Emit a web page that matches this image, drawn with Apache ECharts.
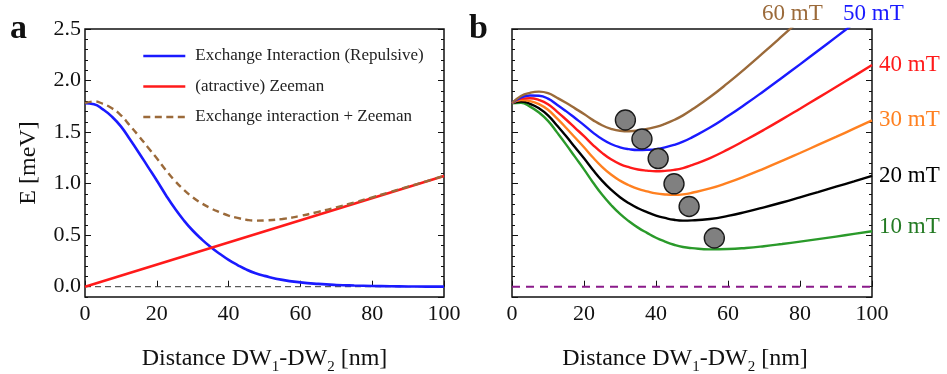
<!DOCTYPE html>
<html>
<head>
<meta charset="utf-8">
<script src="https://cdn.jsdelivr.net/npm/echarts@6/dist/echarts.min.js"></script>
<style>
  html, body { margin: 0; padding: 0; background: #fff; }
  #chart { width: 947px; height: 374px; }
</style>
</head>
<body>
<div id="chart"></div>
<script>
// Distance between the two domain walls, nm
const distance = [0, 2.5, 5, 7.5, 10, 12.5, 15, 17.5, 20, 22.5, 25, 27.5, 30, 32.5, 35, 37.5,
  40, 42.5, 45, 47.5, 50, 55, 60, 65, 70, 75, 80, 85, 90, 95, 100];

// Panel a: energy terms, meV
const exchange = [1.78, 1.77, 1.72, 1.65, 1.555, 1.43, 1.30, 1.165, 1.03, 0.89, 0.76, 0.645, 0.545, 0.46,
  0.385, 0.32, 0.26, 0.21, 0.165, 0.13, 0.105, 0.066, 0.042, 0.027, 0.017, 0.011, 0.007, 0.004, 0.002, 0.001, 0.0005];
const zeemanDistance = [0, 100];
const zeeman = [0, 1.075];
const exchangePlusZeeman = [1.78, 1.797, 1.774, 1.731, 1.663, 1.564, 1.461, 1.353, 1.245, 1.132, 1.029, 0.941,
  0.868, 0.809, 0.761, 0.723, 0.690, 0.667, 0.649, 0.641, 0.643, 0.657, 0.687, 0.726, 0.770, 0.817, 0.867,
  0.918, 0.970, 1.022, 1.076];

// Panel b: total energy for each applied field, meV
const field10 = [1.78, 1.783, 1.747, 1.690, 1.609, 1.497, 1.381, 1.259, 1.138, 1.011, 0.894, 0.793, 0.706, 0.635,
  0.573, 0.522, 0.475, 0.438, 0.407, 0.385, 0.374, 0.362, 0.365, 0.376, 0.393, 0.414, 0.437, 0.461, 0.486, 0.512, 0.538];
const field20 = [1.78, 1.797, 1.774, 1.731, 1.663, 1.564, 1.461, 1.353, 1.245, 1.132, 1.029, 0.941, 0.868, 0.809,
  0.761, 0.723, 0.690, 0.667, 0.649, 0.641, 0.643, 0.657, 0.687, 0.726, 0.770, 0.817, 0.867, 0.918, 0.970, 1.022, 1.076];
const field30 = [1.78, 1.810, 1.801, 1.771, 1.716, 1.632, 1.542, 1.447, 1.353, 1.253, 1.163, 1.088, 1.029, 0.984,
  0.949, 0.925, 0.905, 0.895, 0.891, 0.896, 0.911, 0.953, 1.010, 1.075, 1.146, 1.220, 1.297, 1.375, 1.453, 1.533, 1.613];
const field40 = [1.78, 1.824, 1.828, 1.811, 1.770, 1.699, 1.622, 1.541, 1.460, 1.374, 1.298, 1.236, 1.190, 1.159,
  1.137, 1.126, 1.120, 1.124, 1.133, 1.151, 1.180, 1.248, 1.332, 1.425, 1.522, 1.623, 1.727, 1.832, 1.937, 2.043, 2.150];
const field50 = [1.78, 1.837, 1.855, 1.852, 1.824, 1.766, 1.703, 1.636, 1.568, 1.495, 1.432, 1.384, 1.352, 1.334,
  1.326, 1.328, 1.335, 1.352, 1.375, 1.407, 1.449, 1.544, 1.655, 1.774, 1.899, 2.027, 2.157, 2.289, 2.421, 2.554, 2.688];
const field60 = [1.78, 1.850, 1.881, 1.892, 1.878, 1.833, 1.784, 1.730, 1.675, 1.616, 1.566, 1.532, 1.513, 1.508,
  1.514, 1.530, 1.550, 1.580, 1.617, 1.662, 1.718, 1.840, 1.977, 2.123, 2.275, 2.430, 2.587, 2.745, 2.905, 3.064, 3.226];
const fieldLabels = ['10 mT', '20 mT', '30 mT', '40 mT', '50 mT', '60 mT'];

// Marked positions near each minimum (distance nm, energy meV)
const markerDistance = [31.5, 36.1, 40.6, 45.0, 49.2, 56.2];
const markerEnergy = [1.617, 1.433, 1.243, 0.998, 0.778, 0.472];

const SERIF = '"Liberation Serif", "DejaVu Serif", serif';
const pairs = (xs, ys) => xs.map((x, i) => [x, ys[i]]);

const chart = echarts.init(document.getElementById('chart'), null, { renderer: 'canvas' });

const xTitle = 'Distance DW{s|1}-DW{s|2} [nm]';
const richSub = { s: { fontSize: 15, fontFamily: SERIF, color: '#111', verticalAlign: 'bottom', lineHeight: 24, padding: [0, 0, -4, 0] } };

function xAxisFor(grid, extraPad) {
  return {
    gridIndex: grid, type: 'value', min: 0, max: 100, interval: 20,
    axisLine: { show: false },
    axisTick: { show: true, inside: true, length: 6, lineStyle: { color: '#111', width: 1 } },
    splitLine: { show: false },
    axisLabel: { show: true, fontFamily: SERIF, fontSize: 22, color: '#111', margin: 6 },
    name: xTitle, nameLocation: 'middle', nameGap: 50,
    nameTextStyle: { fontFamily: SERIF, fontSize: 24, color: '#111', rich: richSub, padding: extraPad }
  };
}
function majorY(grid, pos, labels, name) {
  const ax = {
    gridIndex: grid, type: 'value', position: pos, min: -0.1, max: 2.5, splitNumber: 5,
    axisLine: { show: false },
    axisTick: { show: true, inside: true, length: 6, lineStyle: { color: '#111', width: 1 } },
    splitLine: { show: false },
    axisLabel: { show: labels, showMinLabel: false, fontFamily: SERIF, fontSize: 22, color: '#111', margin: 4,
      formatter: v => v.toFixed(1) }
  };
  if (name) {
    ax.name = name; ax.nameLocation = 'middle'; ax.nameGap = 44;
    ax.nameTextStyle = { fontFamily: SERIF, fontSize: 24, color: '#111' };
  }
  return ax;
}
function minorY(grid, pos) {
  return {
    gridIndex: grid, type: 'value', position: pos, min: -0.1, max: 2.5, interval: 0.1,
    axisLine: { show: false },
    axisTick: { show: true, inside: true, length: 3, lineStyle: { color: '#111', width: 1 } },
    splitLine: { show: false }, axisLabel: { show: false }
  };
}

const curveColors = ['#2a9a2a', '#000000', '#ff8020', '#ff1a1a', '#1a1aff', '#9b6a3a'];
const labelColors = ['#237a23', '#000000', '#ff8020', '#ff1a1a', '#1a1aff', '#9b6a3a'];
const labelOffsets = [[0, -4], [0, 0], [0, 0], [0, 0]];
const fieldSets = [field10, field20, field30, field40, field50, field60];

const series = [
  { type: 'line', xAxisIndex: 0, yAxisIndex: 0, data: pairs([0, 100], [0, 0]), symbol: 'none', silent: true,
    lineStyle: { color: '#333', width: 1, type: [6, 4] }, z: 1 },
  { name: 'Exchange Interaction (Repulsive)', type: 'line', xAxisIndex: 0, yAxisIndex: 0,
    data: pairs(distance, exchange), smooth: true, symbol: 'none',
    lineStyle: { color: '#1a1aff', width: 2.6 }, itemStyle: { color: '#1a1aff' }, z: 2 },
  { name: '(atractive) Zeeman', type: 'line', xAxisIndex: 0, yAxisIndex: 0,
    data: pairs(zeemanDistance, zeeman), symbol: 'none',
    lineStyle: { color: '#ff1a1a', width: 2.6 }, itemStyle: { color: '#ff1a1a' }, z: 3 },
  { name: 'Exchange interaction + Zeeman', type: 'line', xAxisIndex: 0, yAxisIndex: 0,
    data: pairs(distance, exchangePlusZeeman), smooth: true, symbol: 'none',
    lineStyle: { color: '#9b6a3a', width: 2.4, type: [7, 4.5] }, itemStyle: { color: '#9b6a3a' }, z: 4 },
  { type: 'line', xAxisIndex: 1, yAxisIndex: 4, data: pairs([0, 100], [0, 0]), symbol: 'none', silent: true,
    lineStyle: { color: '#8a1a8a', width: 2, type: [8, 6] }, z: 1 }
];
fieldSets.forEach((vals, i) => {
  const s = {
    type: 'line', xAxisIndex: 1, yAxisIndex: 4, data: pairs(distance, vals), smooth: true, symbol: 'none',
    lineStyle: { color: curveColors[i], width: 2.4 }, z: 2 + i
  };
  if (i < 4) {
    s.endLabel = { show: true, formatter: fieldLabels[i], color: labelColors[i], fontFamily: SERIF,
      fontSize: 23, distance: 7, offset: labelOffsets[i] };
  }
  series.push(s);
});
series.push({
  type: 'scatter', xAxisIndex: 1, yAxisIndex: 4, data: pairs(markerDistance, markerEnergy),
  symbol: 'circle', symbolSize: 20, z: 20,
  itemStyle: { color: '#808080', borderColor: '#1a1a1a', borderWidth: 1.4, opacity: 1 }
});

const gridBase = { top: 29, height: 268, show: true, borderColor: '#111', borderWidth: 1.5,
  backgroundColor: 'transparent', containLabel: false, outerBoundsMode: 'none' };

const option = {
  animation: false,
  backgroundColor: '#ffffff',
  grid: [
    Object.assign({ left: 85, width: 359 }, gridBase),
    Object.assign({ left: 512, width: 360 }, gridBase)
  ],
  xAxis: [xAxisFor(0, [0, 0, 0, 0]), xAxisFor(1, [0, 14, 0, 0])],
  yAxis: [
    majorY(0, 'left', true, 'E [meV]'), minorY(0, 'left'), majorY(0, 'right', false), minorY(0, 'right'),
    majorY(1, 'left', false), minorY(1, 'left'), majorY(1, 'right', false), minorY(1, 'right')
  ],
  legend: {
    orient: 'vertical', left: 142, top: 46, padding: 0, itemWidth: 42, itemHeight: 14, itemGap: 10.5,
    data: ['Exchange Interaction (Repulsive)', '(atractive) Zeeman', 'Exchange interaction + Zeeman'],
    itemStyle: { opacity: 0 },
    lineStyle: { width: 2.6 },
    textStyle: { fontFamily: SERIF, fontSize: 17, color: '#222', lineHeight: 20, padding: [0, 0, 0, 5] },
    selectedMode: false
  },
  graphic: [
    { type: 'text', left: 10, top: 12, style: { text: 'a', font: 'bold 34px ' + SERIF, fill: '#111' } },
    { type: 'text', left: 469, top: 12, style: { text: 'b', font: 'bold 34px ' + SERIF, fill: '#111' } },
    { type: 'text', left: 762, top: 2, style: { text: fieldLabels[5], font: '23px ' + SERIF, fill: labelColors[5] } },
    { type: 'text', left: 843, top: 2, style: { text: fieldLabels[4], font: '23px ' + SERIF, fill: labelColors[4] } }
  ],
  series: series
};
chart.setOption(option);
</script>
</body>
</html>
